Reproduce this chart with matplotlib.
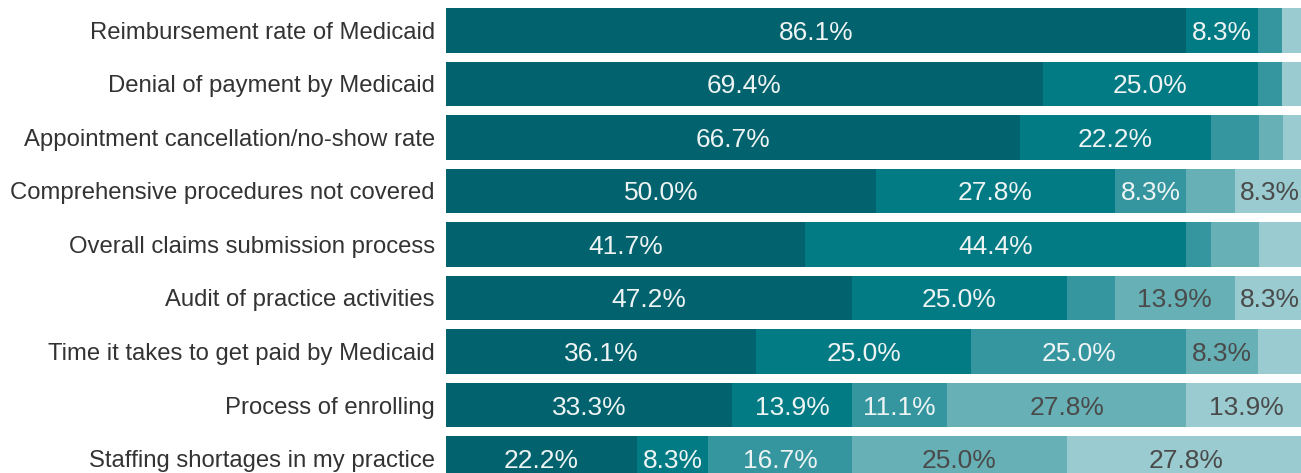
import numpy as np
import matplotlib.pyplot as plt

categories = [
    "Reimbursement rate of Medicaid",
    "Denial of payment by Medicaid",
    "Appointment cancellation/no-show rate",
    "Comprehensive procedures not covered",
    "Overall claims submission process",
    "Audit of practice activities",
    "Time it takes to get paid by Medicaid",
    "Process of enrolling",
    "Staffing shortages in my practice",
]

# five response levels, from darkest to lightest segment
level1 = [86.1, 69.4, 66.7, 50.0, 41.7, 47.2, 36.1, 33.3, 22.2]
level2 = [8.3, 25.0, 22.2, 27.8, 44.4, 25.0, 25.0, 13.9, 8.3]
level3 = [2.8, 2.8, 5.6, 8.3, 2.8, 5.6, 25.0, 11.1, 16.7]
level4 = [0.0, 0.0, 2.8, 5.6, 5.6, 13.9, 8.3, 27.8, 25.0]
level5 = [2.8, 2.8, 2.8, 8.3, 5.6, 8.3, 5.6, 13.9, 27.8]

series = [level1, level2, level3, level4, level5]
colors = ["#02636e", "#027b84", "#3596a0", "#66b0b6", "#99cbd0"]
text_colors = ["#eef4f4", "#eef4f4", "#eef4f4", "#4a4a4a", "#4a4a4a"]

plt.rcParams['font.family'] = ['Liberation Sans', 'DejaVu Sans']

fig = plt.figure(figsize=(13.01, 4.73), dpi=100)
ax = fig.add_axes([446 / 1301, 0, 855 / 1301, 1])

y = np.arange(len(categories))
left = np.zeros(len(categories))
for vals, col, tcol in zip(series, colors, text_colors):
    vals = np.array(vals)
    ax.barh(y, vals, left=left, height=0.84, color=col, edgecolor="none")
    for yi, (l, v) in enumerate(zip(left, vals)):
        if v >= 8:
            ax.text(l + v / 2, yi, f"{v:.1f}%", ha="center", va="center_baseline",
                    color=tcol, fontsize=19)
    left += vals

# the plot area runs slightly past the right edge of the picture
ax.set_xlim(0, 99.42)
ax.set_ylim(8.271, -0.570)
ax.set_yticks(y)
ax.set_yticklabels(categories, fontsize=17.2, color="#333333")
ax.tick_params(axis="y", length=0, pad=8)
ax.set_xticks([])
for s in ax.spines.values():
    s.set_visible(False)

fig.savefig("out.png", dpi=100)
